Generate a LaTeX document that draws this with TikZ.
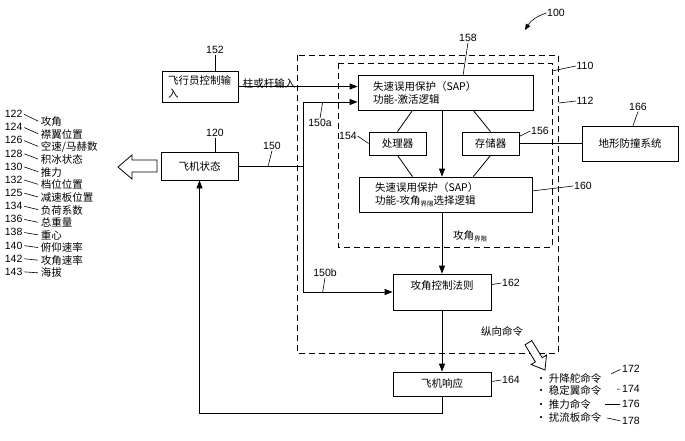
\documentclass[tikz,border=0pt]{standalone}
\usepackage{fontspec}
\setmainfont{Liberation Sans}
\newfontfamily\cjk{Noto Sans CJK SC}
\usetikzlibrary{arrows.meta,calc}

\begin{document}
\begin{tikzpicture}[x=1pt, y=-1pt, line width=0.8pt,
  font=\fontsize{10.5}{12.5}\selectfont,
  block/.style={draw, inner sep=0pt, font=\cjk\fontsize{10.5}{13}\selectfont},
  logic/.style={block, align=left, minimum height=35pt},
  unit/.style={block, minimum width=57pt, minimum height=23pt},
  num/.style={inner sep=0.5pt},
  zh/.style={inner sep=0.5pt, font=\cjk\fontsize{10.5}{12.5}\selectfont},
  frame/.style={draw, dash pattern=on 6pt off 4pt},
  lead/.style={line width=0.6pt},
  arr/.style={-{Triangle[length=8pt,width=6pt]}},
  hollow/.style={draw, fill=white}]
  \useasboundingbox (0,0) rectangle (685,441);

  \draw[frame] (297,55) rectangle (558,353);
  \draw[frame] (338,63) rectangle (552,247);

  \node[block, align=left, text width=64pt, inner xsep=6pt, minimum height=31pt] (pilot) at (200,86.5) {飞行员控制输\\入};
  \node[block, minimum width=77pt, minimum height=28pt] (state) at (199.5,166) {飞机状态};
  \node[logic, text width=145pt, inner xsep=15pt] (sap) at (445.5,93) {失速误用保护（SAP）\\功能-激活逻辑};
  \node[unit] (proc) at (397.5,143.5) {处理器};
  \node[unit] (mem) at (490.5,143.5) {存储器};
  \node[logic, text width=141pt, inner xsep=16pt] (lim) at (445.5,194.5) {失速误用保护（SAP）\\功能-攻角\raisebox{-2pt}{\fontsize{6.5}{7}\selectfont 界限}选择逻辑};
  \node[block, minimum width=98pt, minimum height=36pt, label={[zh, anchor=north, yshift=-6pt]north:攻角控制法则}] (law) at (442,292) {};
  \node[block, minimum width=98pt, minimum height=24pt] (resp) at (442,384) {飞机响应};
  \node[block, minimum width=96pt, minimum height=35pt] (taws) at (630,143.5) {地形防撞系统};

  \node[num] (n100) at (556,13) {100};
  \node[num] (n110) at (585,66) {110};
  \node[num] (n112) at (585,101) {112};
  \node[num] (n120) at (215,133) {120};
  \node[num] (n150) at (272,146) {150};
  \node[num] (n150a) at (320,123) {150a};
  \node[num] (n150b) at (325,273) {150b};
  \node[num] (n152) at (215,50) {152};
  \node[num] (n154) at (348,136) {154};
  \node[num] (n156) at (540,131) {156};
  \node[num] (n158) at (468,38) {158};
  \node[num] (n160) at (583,186) {160};
  \node[num] (n162) at (511,283) {162};
  \node[num] (n164) at (511,380) {164};
  \node[num] (n166) at (638,107) {166};

  \coordinate (f110) at (552,71);
  \coordinate (f112) at (559,103);
  \coordinate (c100) at (525,30);
  \coordinate (busTop) at (303,102);
  \coordinate (busBot) at (303,292);
  \coordinate (fb) at (199.5,413);

  \draw[lead] (n152.south) -- (pilot.north -| n152.south);
  \draw[lead] (n120.south) -- (state.north -| n120.south);
  \draw[lead] (n158.south) -- ($(sap.north west)!0.6!(sap.north east)$);
  \draw[lead] (n154.east) -- (proc.west);
  \draw[lead] (n156.west) -- ($(mem.north east)!0.2!(mem.south east)$);
  \draw[lead] (n160.west) -- ($(lim.north east)!0.4!(lim.south east)$);
  \draw[lead] (n162.west) -- ($(law.north east)!0.3!(law.south east)$);
  \draw[lead] (n164.west) -- ($(resp.north east)!0.4!(resp.south east)$);
  \draw[lead] (n166.south) -- ($(taws.north)+(3,0)$);
  \draw[lead] (n110.west) -- (f110);
  \draw[lead] (n112.west) -- (f112);
  \draw[lead, -{Triangle[length=6pt,width=5pt]}] (n100.west) to[bend right=20] (c100);

  \draw (state.east) -- (state.east -| busTop);
  \draw (busTop) -- (busBot);
  \draw[arr] (busTop) -- (busTop -| sap.west);
  \draw[arr] (busBot) -- (law.west);
  \draw[arr] (pilot.east) -- (pilot.east -| sap.west);
  \node[zh] (stick) at (269,83) {柱或杆输入};
  \draw[lead] (n150.south) -- ($(state.east)!0.46!(state.east -| busTop)$);
  \draw[lead] (n150a.north) -- ($(busTop)!0.36!(busTop -| sap.west)$);
  \draw[lead] (n150b.south) -- ($(busBot)!0.22!(law.west)$);

  \draw ($(sap.south west)!0.31!(sap.south east)$) -- (proc.north);
  \draw ($(sap.south west)!0.66!(sap.south east)$) -- (mem.north);
  \draw (proc.south) -- ($(lim.north west)!0.31!(lim.north east)$);
  \draw (mem.south) -- ($(lim.north west)!0.66!(lim.north east)$);
  \draw (mem.east) -- (taws.west);

  \draw[arr] (sap.south -| law.north) -- (lim.north -| law.north);
  \draw[arr] (lim.south -| law.north) -- (law.north);
  \node[zh] (limtxt) at (470,236) {攻角\raisebox{-2pt}{\fontsize{6.5}{7}\selectfont 界限}};
  \draw[arr] (law.south) -- (resp.north);
  \draw[arr] (resp.south) |- (fb) -- (state.south);

  % aircraft state outputs
  \draw[hollow] (157,160) -- (132,160) -- (132,155) -- (118,167) -- (132,179) -- (132,172) -- (157,172) -- cycle;
  \foreach \n/\t [count=\i from 0] in {122/攻角, 124/襟翼位置, 126/{空速/马赫数}, 128/积冰状态, 130/推力, 132/档位位置, 125/减速板位置, 134/负荷系数, 136/总重量, 138/重心, 140/俯仰速率, 142/攻角速率, 143/海拔}
  {
    \node[num, anchor=west] (s\n) at (4, 114+13.15*\i) {\n};
    \node[zh, anchor=west] (t\n) at (40, 122+12.58*\i) {\t};
    \draw[lead, shorten >=2pt, shorten <=1pt] (s\n.east) -- (t\n.west);
  }

  % longitudinal commands
  \node[zh] (cmd) at (502,331) {纵向命令};
  \draw[hollow] (545,370) -- (546.5,355.1) -- (542.2,357.7) -- (531.8,340.6) -- (525.0,344.8) -- (535.4,361.9) -- (531.1,364.5) -- cycle;
  \foreach \t/\n/\y/\m/\s in {升降舵命令/172/378/369/10pt, 稳定翼命令/174/390/389/15pt, 推力命令/176/404/404/13pt, 扰流板命令/178/417/421/5pt}
  {
    \node[zh, anchor=west] (c\n) at (535,\y) {• \t};
    \node[num] (n\n) at (631,\m) {\n};
    \draw[lead, shorten <=\s, shorten >=1pt] (c\n.east) -- (n\n.west);
  }
\end{tikzpicture}
\end{document}
